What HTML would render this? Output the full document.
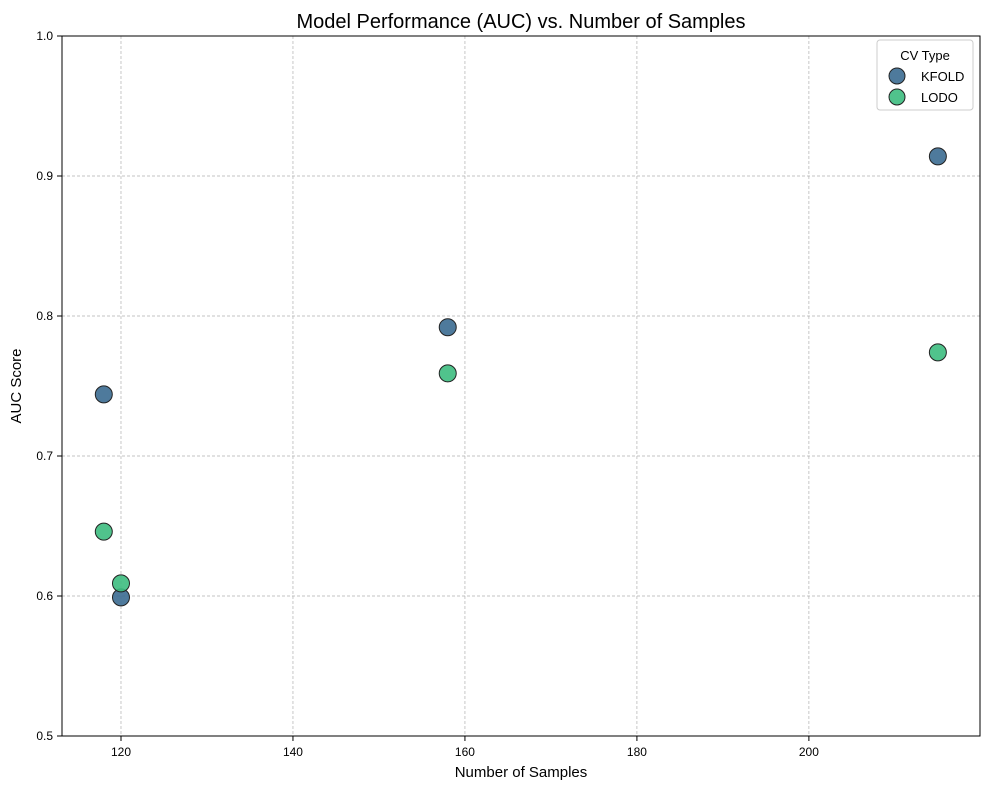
<!DOCTYPE html>
<html><head><meta charset="utf-8"><style>
body{margin:0;background:#fff;font-family:"Liberation Sans",sans-serif}
</style></head><body>
<svg id="chart" width="989" height="790" xmlns="http://www.w3.org/2000/svg" font-family="Liberation Sans, sans-serif">
<g id="grid"></g>
<g id="axes"></g>
<g id="points"></g>
<text x="521" y="28" text-anchor="middle" font-size="20">Model Performance (AUC) vs. Number of Samples</text>
<text x="521" y="777" text-anchor="middle" font-size="15">Number of Samples</text>
<text transform="translate(21,386) rotate(-90)" text-anchor="middle" font-size="15">AUC Score</text>
<g>
<rect x="877" y="40" width="96" height="70" rx="3" fill="#fff" fill-opacity="0.8" stroke="#ccc"/>
<text x="925" y="60" text-anchor="middle" font-size="13">CV Type</text>
<g><circle cx="897" cy="76" r="8" fill="#3b6c91" fill-opacity="0.9" stroke="#222"/><text x="921" y="81" font-size="13">KFOLD</text></g>
<g><circle cx="897" cy="97" r="8" fill="#3dbc7f" fill-opacity="0.9" stroke="#222"/><text x="921" y="102" font-size="13">LODO</text></g>
</g>
</svg>
<script>
const xTicks=[120,140,160,180,200];
const yTicks=[0.5,0.6,0.7,0.8,0.9,1.0];
const kfoldX=[118,120,158,215];
const kfoldY=[0.744,0.599,0.792,0.914];
const lodoX=[118,120,158,215];
const lodoY=[0.646,0.609,0.759,0.774];
const L=62,R=980,T=36,B=736,xMin=113.14,xMax=219.9,yMin=0.5,yMax=1.0;
const xs=v=>L+(v-xMin)/(xMax-xMin)*(R-L);
const ys=v=>B-(v-yMin)/(yMax-yMin)*(B-T);
const NS="http://www.w3.org/2000/svg";
function mk(tag,attrs,parent,txt){const e=document.createElementNS(NS,tag);for(const k in attrs)e.setAttribute(k,attrs[k]);if(txt!==undefined)e.textContent=txt;parent.appendChild(e);return e;}
const grid=document.getElementById('grid'),axes=document.getElementById('axes'),pts=document.getElementById('points');
xTicks.forEach(t=>{const x=xs(t);
 const g=mk('line',{x1:x,x2:x,y1:T,y2:B,stroke:'#b0b0b0','stroke-width':0.7,'stroke-dasharray':'3,2'},grid);
 
 
 const tk=mk('line',{x1:x,x2:x,y1:B,y2:B+5,stroke:'#000'},axes);
 
 
 const tl=mk('text',{x:x,y:B+20,'text-anchor':'middle','font-size':12},axes,String(t));
 
 });
yTicks.forEach(t=>{const y=ys(t);
 const g=mk('line',{x1:L,x2:R,y1:y,y2:y,stroke:'#b0b0b0','stroke-width':0.7,'stroke-dasharray':'3,2'},grid);
 
 
 const tk=mk('line',{x1:L-5,x2:L,y1:y,y2:y,stroke:'#000'},axes);
 
 
 const tl=mk('text',{x:L-9,y:y+4,'text-anchor':'end','font-size':12},axes,t.toFixed(1));
 
 });
const fr=mk('rect',{x:L,y:T,width:R-L,height:B-T,fill:'none',stroke:'#000','stroke-width':1},axes);


function series(X,Y,color,name){X.forEach((v,i)=>{const c=mk('circle',{cx:xs(v),cy:ys(Y[i]),r:8.5,fill:color,'fill-opacity':0.9,stroke:'#222','stroke-width':1},pts);
 
 });}
series(kfoldX,kfoldY,'#3b6c91','kfold');
series(lodoX,lodoY,'#3dbc7f','lodo');
</script>
</body></html>
